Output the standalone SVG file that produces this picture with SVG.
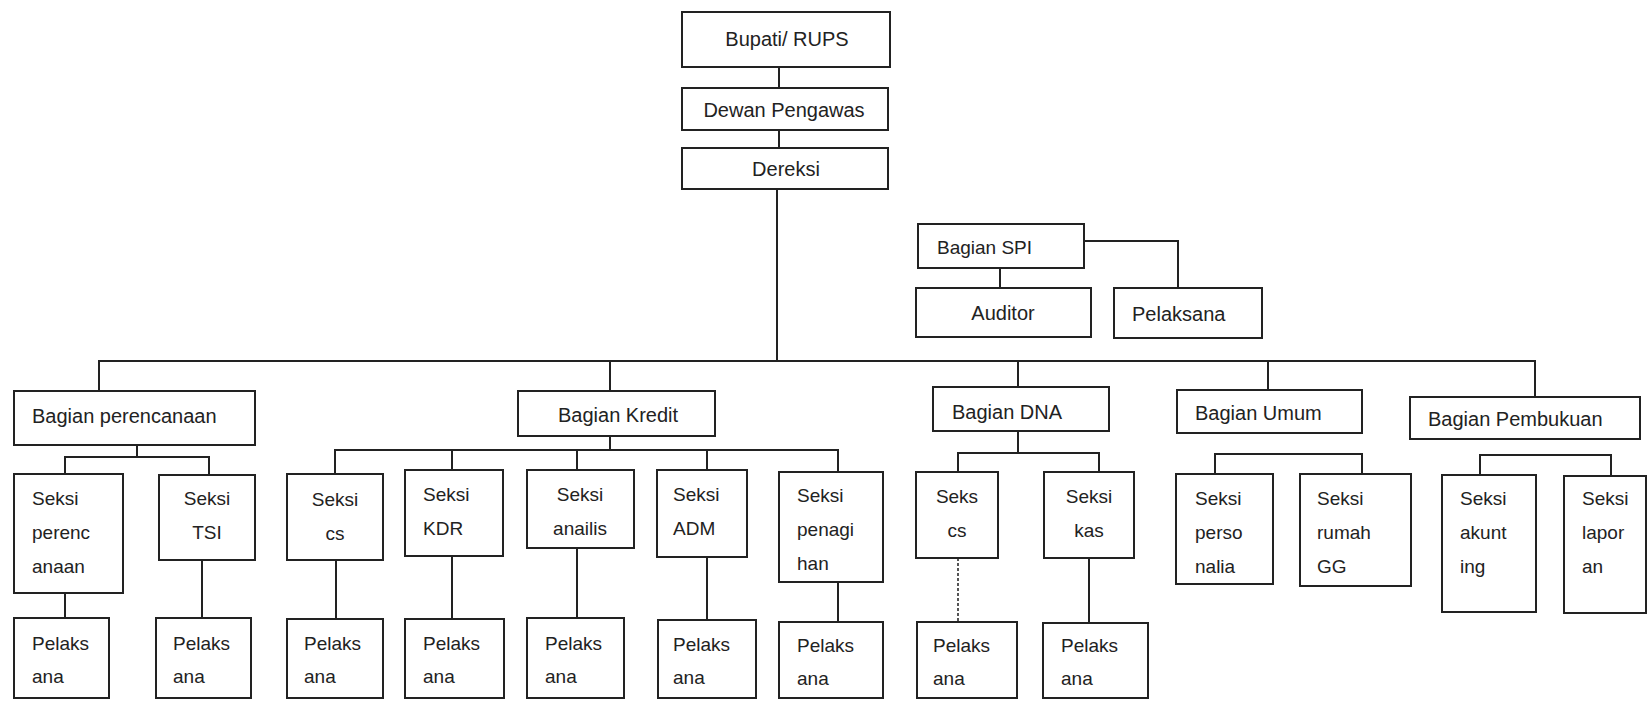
<svg xmlns="http://www.w3.org/2000/svg" width="1648" height="702" viewBox="0 0 1648 702">
<style>
.b{fill:#fff;stroke:#222;stroke-width:2}
.t{font-family:"Liberation Sans",Arial,sans-serif;font-size:19px;fill:#222}
.h{font-family:"Liberation Sans",Arial,sans-serif;font-size:20px;fill:#222}
.c{text-anchor:middle}
.l{fill:none;stroke:#222;stroke-width:2}
.d{fill:none;stroke:#555;stroke-width:2;stroke-dasharray:3 2}
</style>
<rect width="1648" height="702" fill="#fff"/>
<g id="connectors">
<path class="l" d="M779 67V88M779 130V148M777 189V361"/>
<path class="l" d="M99 391V361H1535V397M610 361V391M1018 361V387M1268 361V390"/>
<path class="l" d="M1084 241H1178V288M1000 268V288"/>
<path class="l" d="M137 445V457M65 474V457H209V475"/>
<path class="l" d="M65 593V618M202 560V618"/>
<path class="l" d="M610 436V450M335 474V450H838V472M452 450V470M577 450V470M707 450V470"/>
<path class="l" d="M336 560V619M452 556V619M577 548V618M707 557V620M838 582V622"/>
<path class="l" d="M1018 431V453M958 472V453H1099V472M1089 558V623"/>
<path class="d" d="M958 558V622"/>
<path class="l" d="M1215 474V454H1362V474"/>
<path class="l" d="M1480 475V455H1611V475"/>
</g>
<g id="bupati"><rect class="b" x="682" y="12" width="208" height="55"/><text class="h c" x="787" y="46">Bupati/ RUPS</text></g>
<g id="dewan"><rect class="b" x="682" y="88" width="206" height="42"/><text class="h c" x="784" y="117">Dewan Pengawas</text></g>
<g id="dereksi"><rect class="b" x="682" y="148" width="206" height="41"/><text class="h c" x="786" y="176">Dereksi</text></g>
<g id="spi"><rect class="b" x="918" y="224" width="166" height="44"/><text class="t" x="937" y="254">Bagian SPI</text></g>
<g id="auditor"><rect class="b" x="916" y="288" width="175" height="49"/><text class="h c" x="1003" y="320">Auditor</text></g>
<g id="pelaksana-spi"><rect class="b" x="1114" y="288" width="148" height="50"/><text class="h" x="1132" y="321">Pelaksana</text></g>

<g id="bag-perencanaan"><rect class="b" x="14" y="391" width="241" height="54"/><text class="h" x="32" y="423">Bagian perencanaan</text></g>
<g id="bag-kredit"><rect class="b" x="518" y="391" width="197" height="45"/><text class="h" x="558" y="422">Bagian Kredit</text></g>
<g id="bag-dna"><rect class="b" x="933" y="387" width="176" height="44"/><text class="h" x="952" y="419">Bagian DNA</text></g>
<g id="bag-umum"><rect class="b" x="1177" y="390" width="185" height="43"/><text class="h" x="1195" y="420">Bagian Umum</text></g>
<g id="bag-pembukuan"><rect class="b" x="1410" y="397" width="230" height="42"/><text class="h" x="1428" y="426">Bagian Pembukuan</text></g>

<g id="s-perencanaan"><rect class="b" x="14" y="474" width="109" height="119"/><text class="t" x="32" y="505">Seksi</text><text class="t" x="32" y="539">perenc</text><text class="t" x="32" y="573">anaan</text></g>
<g id="s-tsi"><rect class="b" x="159" y="475" width="96" height="85"/><text class="t c" x="207" y="505">Seksi</text><text class="t c" x="207" y="539">TSI</text></g>
<g id="s-cs-kredit"><rect class="b" x="287" y="474" width="96" height="86"/><text class="t c" x="335" y="506">Seksi</text><text class="t c" x="335" y="540">cs</text></g>
<g id="s-kdr"><rect class="b" x="405" y="470" width="98" height="86"/><text class="t" x="423" y="501">Seksi</text><text class="t" x="423" y="535">KDR</text></g>
<g id="s-anailis"><rect class="b" x="527" y="470" width="107" height="78"/><text class="t c" x="580" y="501">Seksi</text><text class="t c" x="580" y="535">anailis</text></g>
<g id="s-adm"><rect class="b" x="657" y="470" width="90" height="87"/><text class="t" x="673" y="501">Seksi</text><text class="t" x="673" y="535">ADM</text></g>
<g id="s-penagihan"><rect class="b" x="779" y="472" width="104" height="110"/><text class="t" x="797" y="502">Seksi</text><text class="t" x="797" y="536">penagi</text><text class="t" x="797" y="570">han</text></g>
<g id="s-cs-dna"><rect class="b" x="916" y="472" width="82" height="86"/><text class="t c" x="957" y="503">Seks</text><text class="t c" x="957" y="537">cs</text></g>
<g id="s-kas"><rect class="b" x="1044" y="472" width="90" height="86"/><text class="t c" x="1089" y="503">Seksi</text><text class="t c" x="1089" y="537">kas</text></g>
<g id="s-personalia"><rect class="b" x="1176" y="474" width="97" height="110"/><text class="t" x="1195" y="505">Seksi</text><text class="t" x="1195" y="539">perso</text><text class="t" x="1195" y="573">nalia</text></g>
<g id="s-rumah"><rect class="b" x="1300" y="474" width="111" height="112"/><text class="t" x="1317" y="505">Seksi</text><text class="t" x="1317" y="539">rumah</text><text class="t" x="1317" y="573">GG</text></g>
<g id="s-akunting"><rect class="b" x="1442" y="475" width="94" height="137"/><text class="t" x="1460" y="505">Seksi</text><text class="t" x="1460" y="539">akunt</text><text class="t" x="1460" y="573">ing</text></g>
<g id="s-laporan"><rect class="b" x="1564" y="476" width="82" height="137"/><text class="t" x="1582" y="505">Seksi</text><text class="t" x="1582" y="539">lapor</text><text class="t" x="1582" y="573">an</text></g>

<g id="p1"><rect class="b" x="14" y="618" width="95" height="80"/><text class="t" x="32" y="650">Pelaks</text><text class="t" x="32" y="683">ana</text></g>
<g id="p2"><rect class="b" x="156" y="618" width="95" height="80"/><text class="t" x="173" y="650">Pelaks</text><text class="t" x="173" y="683">ana</text></g>
<g id="p3"><rect class="b" x="287" y="619" width="96" height="79"/><text class="t" x="304" y="650">Pelaks</text><text class="t" x="304" y="683">ana</text></g>
<g id="p4"><rect class="b" x="405" y="619" width="99" height="79"/><text class="t" x="423" y="650">Pelaks</text><text class="t" x="423" y="683">ana</text></g>
<g id="p5"><rect class="b" x="527" y="618" width="97" height="80"/><text class="t" x="545" y="650">Pelaks</text><text class="t" x="545" y="683">ana</text></g>
<g id="p6"><rect class="b" x="658" y="620" width="98" height="78"/><text class="t" x="673" y="651">Pelaks</text><text class="t" x="673" y="684">ana</text></g>
<g id="p7"><rect class="b" x="779" y="622" width="104" height="76"/><text class="t" x="797" y="652">Pelaks</text><text class="t" x="797" y="685">ana</text></g>
<g id="p8"><rect class="b" x="917" y="622" width="100" height="76"/><text class="t" x="933" y="652">Pelaks</text><text class="t" x="933" y="685">ana</text></g>
<g id="p9"><rect class="b" x="1043" y="623" width="105" height="75"/><text class="t" x="1061" y="652">Pelaks</text><text class="t" x="1061" y="685">ana</text></g>
</svg>
